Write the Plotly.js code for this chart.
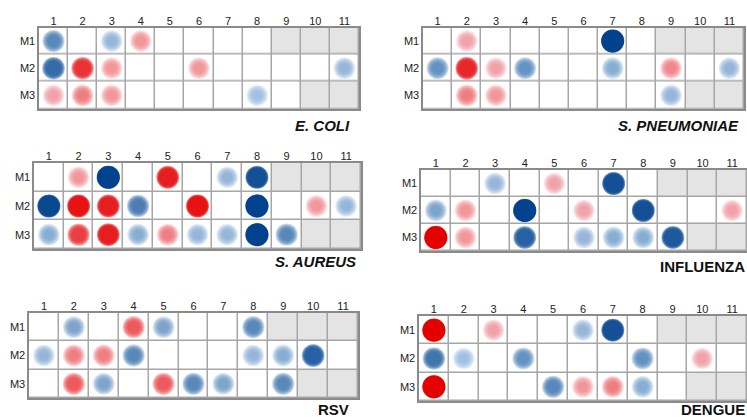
<!DOCTYPE html>
<html>
<head>
<meta charset="utf-8">
<script src="https://cdn.plot.ly/plotly-3.0.1.min.js"></script>
<style>
  html, body { margin: 0; padding: 0; background: #ffffff; }
  #chart { width: 747px; height: 417px; }
</style>
</head>
<body>
<div id="chart"></div>
<script>
// ---------------- DATA ----------------
const columns = [1, 2, 3, 4, 5, 6, 7, 8, 9, 10, 11];
const columnLabels = ['1', '2', '3', '4', '5', '6', '7', '8', '9', '10', '11'];
const rows = ['M1', 'M2', 'M3'];

// cells that were not assessed (grey background)
const notTestedM1 = [0, 0, 0, 0, 0, 0, 0, 0, 1, 1, 1];
const notTestedM2 = [0, 0, 0, 0, 0, 0, 0, 0, 0, 0, 0];
const notTestedM3 = [0, 0, 0, 0, 0, 0, 0, 0, 0, 1, 1];

const panelTitles = ['E. COLI', 'S. PNEUMONIAE', 'S. AUREUS', 'INFLUENZA', 'RSV', 'DENGUE'];

// signed association strength: + = red, - = blue, null = no circle
const ecoliM1 = [-0.6, null, -0.35, 0.35, null, null, null, null, null, null, null];
const ecoliM2 = [-0.75, 0.75, 0.35, null, null, 0.35, null, null, null, null, -0.35];
const ecoliM3 = [0.3, 0.45, 0.35, null, null, null, null, -0.3, null, null, null];

const pneumoM1 = [null, 0.3, null, null, null, null, -1.0, null, null, null, null];
const pneumoM2 = [-0.55, 0.8, 0.3, -0.55, null, null, -0.4, null, 0.4, null, -0.35];
const pneumoM3 = [null, 0.45, 0.35, null, null, null, null, null, -0.35, null, null];

const aureusM1 = [null, 0.35, -1.0, null, 0.85, null, -0.35, -0.9, null, null, null];
const aureusM2 = [-0.95, 0.9, 0.85, -0.65, null, 0.9, null, -1.0, null, 0.35, -0.35];
const aureusM3 = [-0.4, 0.7, 0.85, -0.4, 0.45, -0.35, -0.35, -1.0, -0.6, null, null];

const fluM1 = [null, null, -0.35, null, 0.3, null, -0.9, null, null, null, null];
const fluM2 = [-0.45, 0.35, null, -1.0, null, 0.3, null, -0.9, null, null, 0.3];
const fluM3 = [1.0, 0.35, null, -0.8, null, -0.35, -0.4, -0.4, -0.85, null, null];

const rsvM1 = [null, -0.45, null, 0.6, -0.45, null, null, -0.6, null, null, null];
const rsvM2 = [-0.35, 0.45, 0.45, -0.6, null, null, null, -0.35, -0.4, -0.8, null];
const rsvM3 = [null, 0.6, -0.45, null, 0.6, -0.6, -0.45, null, -0.6, null, null];

const dengueM1 = [1.0, null, 0.3, null, null, -0.35, -0.9, null, null, null, null];
const dengueM2 = [-0.7, -0.3, null, -0.55, null, null, null, -0.55, null, 0.3, null];
const dengueM3 = [1.0, null, null, null, -0.6, 0.35, 0.45, -0.4, null, null, null];

const panelRows = [
  [ecoliM1, ecoliM2, ecoliM3],
  [pneumoM1, pneumoM2, pneumoM3],
  [aureusM1, aureusM2, aureusM3],
  [fluM1, fluM2, fluM3],
  [rsvM1, rsvM2, rsvM3],
  [dengueM1, dengueM2, dengueM3]
];

// ---------------- LAYOUT GEOMETRY (pixels) ----------------
const W = 747, H = 417;
const boxes = [ // [left, right, top, bottom]
  [39, 359, 27.5, 109],
  [423, 744, 27.5, 109],
  [34, 361, 163, 249],
  [421, 747, 170, 251],
  [29, 358, 313, 398],
  [419, 747, 316, 401]
];
const titlePos = [ // [right x, center y]
  [352, 125], [741, 125], [358, 261], [747, 266], [351, 409], [747, 409]
];

// ---------------- COLOURS / BLUR ----------------
function lerp(a, b, t) { return a + (b - a) * t; }
function strengthT(v) { return Math.max(0, Math.min(1, (Math.abs(v) - 0.3) / 0.7)); }
function strengthColor(v, alpha) {
  const t = Math.pow(strengthT(v), 0.85);
  let lo, hi;
  if (v < 0) { lo = [146, 182, 220]; hi = [0, 66, 140]; }
  else { lo = [243, 145, 154]; hi = [228, 0, 0]; }
  const c = [0, 1, 2].map(i => Math.round(lerp(lo[i], hi[i], t)));
  return 'rgba(' + c[0] + ',' + c[1] + ',' + c[2] + ',' + alpha + ')';
}
const N_LAYERS = 8;

const traces = [];
const layout = {
  width: W, height: H,
  margin: {l: 0, r: 0, t: 0, b: 0},
  paper_bgcolor: '#ffffff',
  plot_bgcolor: '#a6a6a6',
  showlegend: false,
  annotations: []
};

const fontFam = 'Liberation Sans, Arial, sans-serif';

for (let p = 0; p < 6; p++) {
  const xa = 'x' + (p + 1), ya = 'y' + (p + 1);
  const b = boxes[p];

  // grey / white cell background
  traces.push({
    type: 'heatmap',
    x: columns, y: rows,
    z: [notTestedM1, notTestedM2, notTestedM3],
    zmin: 0, zmax: 1,
    colorscale: [[0, '#ffffff'], [1, '#e4e4e4']],
    showscale: false, xgap: 1.5, ygap: 1.5,
    hoverinfo: 'skip',
    xaxis: xa, yaxis: ya
  });

  // circles: stacked translucent discs give the soft (blurred) edge
  const xs = [], ys = [], vals = [];
  panelRows[p].forEach((rowVals, r) => {
    rowVals.forEach((v, c) => {
      if (v !== null) { xs.push(columns[c]); ys.push(rows[r]); vals.push(v); }
    });
  });

  for (let k = 0; k < N_LAYERS; k++) {
    const f = k / (N_LAYERS - 1); // 0 = outermost, 1 = innermost
    const sizes = vals.map(v => {
      const t = strengthT(v);
      const D = 21.5 + 1.8 * t;
      const w = 0.6 - 0.5 * t * t;      // blur width as fraction of diameter
      return D * (1 - w * f);
    });
    const cols = vals.map(v => {
      const t = strengthT(v);
      return strengthColor(v, 0.3 + 0.45 * t * t);
    });
    traces.push({
      type: 'scatter', mode: 'markers',
      x: xs, y: ys, xaxis: xa, yaxis: ya, hoverinfo: 'skip',
      marker: {size: sizes, color: cols, line: {width: 0}}
    });
  }

  const sfx = p === 0 ? '' : String(p + 1);
  layout['xaxis' + sfx] = {
    domain: [b[0] / W, Math.min(1, b[1] / W)],
    anchor: ya,
    range: [0.5, 11.5],
    side: 'top',
    tickmode: 'array', tickvals: columns, ticktext: columnLabels,
    ticks: '', ticklabelstandoff: -3, showgrid: false, zeroline: false,
    showline: true, mirror: true, linecolor: '#8a8a8a', linewidth: 1.6,
    tickfont: {family: fontFam, size: 11, color: '#222222'},
    fixedrange: true
  };
  layout['yaxis' + sfx] = {
    domain: [1 - b[3] / H, 1 - b[2] / H],
    anchor: xa,
    type: 'category', categoryarray: rows, categoryorder: 'array',
    range: [2.5, -0.5],
    ticks: '', showgrid: false, zeroline: false,
    showline: true, mirror: true, linecolor: '#8a8a8a', linewidth: 1.6,
    tickfont: {family: fontFam, size: 11, color: '#222222'},
    fixedrange: true
  };

  const italic = p < 3;
  layout.annotations.push({
    text: panelTitles[p],
    xref: 'paper', yref: 'paper',
    x: titlePos[p][0] / W, y: 1 - titlePos[p][1] / H,
    xanchor: 'right', yanchor: 'middle', showarrow: false,
    font: {family: fontFam, size: 15, color: '#111111',
           weight: 'bold', style: italic ? 'italic' : 'normal'}
  });
}

Plotly.newPlot('chart', traces, layout, {displayModeBar: false, staticPlot: true});
</script>
</body>
</html>
